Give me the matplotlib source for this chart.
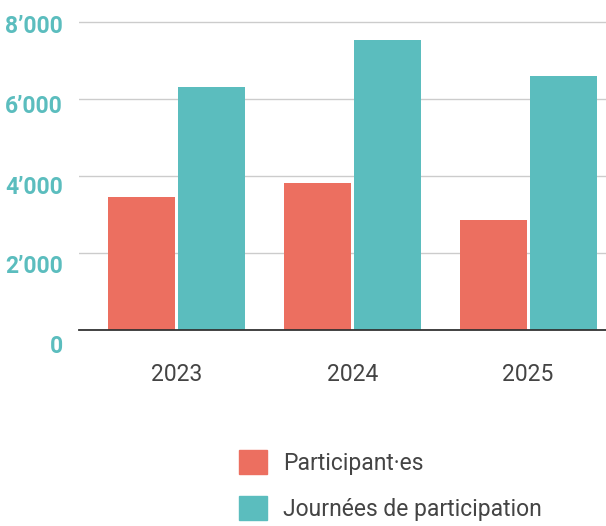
import matplotlib
matplotlib.use('Agg')
import matplotlib.pyplot as plt
import matplotlib.transforms as mtransforms
from matplotlib.patches import Patch
import numpy as np

years = ['2023', '2024', '2025']
participants = [3450, 3820, 2860]
journees = [6310, 7530, 6600]
series_labels = ['Participant·es', 'Journées de participation']
yticks = [0, 2000, 4000, 6000, 8000]
ytick_labels = ['0', '2’000', '4’000', '6’000', '8’000']

RED = '#EC6F60'
TEAL = '#5BBDBE'
TXT = '#444444'

plt.rcParams['font.family'] = ['Roboto', 'DejaVu Sans']

W, H = 606, 526
fig = plt.figure(figsize=(W / 100, H / 100), dpi=100)
ax = fig.add_axes([79 / W, (H - 330) / H, (W - 79) / W + 0.002, (330 - 17.85) / H])

x = np.arange(len(years))
bw = 0.382
off = 0.1994
ax.bar(x - off, participants, bw, color=RED, zorder=3, label=series_labels[0])
ax.bar(x + off, journees, bw, color=TEAL, zorder=3, label=series_labels[1])

ax.set_xlim(-0.556, 2.45)
ax.set_ylim(0, 8100)
ax.set_yticks(yticks)
ax.set_yticklabels(ytick_labels)
ax.set_xticks(x)
ax.set_xticklabels(years)

ax.yaxis.grid(True, color='#cccccc', linewidth=1.0, zorder=0)
ax.set_axisbelow(True)
for s in ['top', 'right', 'left']:
    ax.spines[s].set_visible(False)
ax.spines['bottom'].set_color('#333333')
ax.spines['bottom'].set_linewidth(1.3)
ax.spines['bottom'].set_zorder(4)

ax.tick_params(axis='y', length=0, pad=11.5, labelsize=16.5, labelcolor=TEAL)
ax.tick_params(axis='x', length=0, pad=23.5, labelsize=16.5, labelcolor=TXT)
for lab in ax.get_yticklabels():
    lab.set_fontweight('bold')

# label vertical offsets (px, downward) to match reference layout
label_offsets = [14, 11.3, 9.3, 5.3, 2.3]
for lab, d in zip(ax.get_yticklabels(), label_offsets):
    lab.set_transform(lab.get_transform() + mtransforms.ScaledTranslation(0, -d / 100, fig.dpi_scale_trans))

handles = [Patch(color=RED), Patch(color=TEAL)]
leg = fig.legend(handles, series_labels, loc='upper left',
                 bbox_to_anchor=(239 / W, 1 - 450 / H), borderaxespad=0, borderpad=0,
                 frameon=False, fontsize=16.5, handlelength=1.22, handleheight=1.22,
                 handletextpad=0.7, labelspacing=0.95, labelcolor=TXT)

fig.savefig('out.png', dpi=100)
